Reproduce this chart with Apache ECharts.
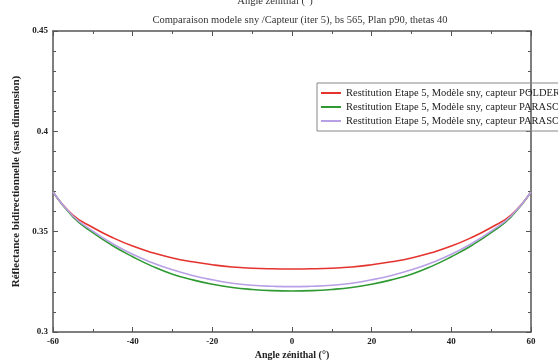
<!DOCTYPE html>
<html><head><meta charset="utf-8">
<script src="https://cdn.jsdelivr.net/npm/echarts@6/dist/echarts.min.js"></script>
<style>html,body{margin:0;padding:0;background:#fff}#c{width:558px;height:360px}</style>
</head><body><div id="c"></div>
<script>
const angles = [-60,-55,-50,-45,-40,-35,-30,-25,-20,-15,-10,-5,0,5,10,15,20,25,30,35,40,45,50,55,60];
const polder = [0.3698,0.3583,0.3521,0.3470,0.3428,0.3395,0.3369,0.3350,0.3335,0.3324,0.3318,0.3315,0.3314,0.3315,0.3318,0.3324,0.3335,0.3350,0.3369,0.3395,0.3428,0.3470,0.3521,0.3583,0.3698];
const parasolA = [0.3698,0.3573,0.3495,0.3430,0.3375,0.3327,0.3288,0.3260,0.3238,0.3222,0.3212,0.3206,0.3204,0.3206,0.3212,0.3222,0.3238,0.3260,0.3288,0.3327,0.3375,0.3430,0.3495,0.3573,0.3698];
const parasolB = [0.3698,0.3578,0.3503,0.3440,0.3387,0.3345,0.3310,0.3282,0.3260,0.3243,0.3233,0.3228,0.3226,0.3228,0.3233,0.3243,0.3260,0.3282,0.3310,0.3345,0.3387,0.3440,0.3503,0.3578,0.3698];
const seriesNames = ['Restitution Etape 5, Modèle sny, capteur POLDER','Restitution Etape 5, Modèle sny, capteur PARASOL','Restitution Etape 5, Modèle sny, capteur PARASOL '];
const titleTop = 'Angle zénithal (°)';
const titleMain = 'Comparaison modele sny /Capteur (iter 5), bs 565, Plan p90, thetas 40';
const xName = 'Angle zénithal (°)';
const yName = 'Réflectance bidirectionnelle (sans dimension)';

const font = 'Liberation Serif';
const axisCol = '#555';
const chart = echarts.init(document.getElementById('c'), null, {renderer:'canvas'});
const pair = arr => angles.map((a,i)=>[a,arr[i]]);
const colors = ['#e5332e','#2f9a33','#b8a0e6'];
const mk = (name, data, col) => ({name, type:'line', data:pair(data), smooth:0.5, symbol:'none', lineStyle:{color:col,width:1.6}, itemStyle:{color:col}, xAxisIndex:0, yAxisIndex:0});
const common = {
  min:-60,max:60,interval:20,
  axisLine:{onZero:false,lineStyle:{color:axisCol,width:1.5}},
  axisTick:{inside:true,length:5,lineStyle:{color:axisCol}},
  minorTick:{show:true,splitNumber:2,length:3,lineStyle:{color:axisCol}},
  splitLine:{show:false}
};
const ycommon = {
  min:0.3,max:0.45,interval:0.05,
  axisLine:{onZero:false,lineStyle:{color:axisCol,width:1.5}},
  axisTick:{inside:true,length:5,lineStyle:{color:axisCol}},
  minorTick:{show:true,splitNumber:5,length:3,lineStyle:{color:axisCol}},
  splitLine:{show:false}
};
chart.setOption({
  backgroundColor:'#fff',
  animation:false,
  title:[
    {text:titleTop,left:270,textAlign:'center',top:-9,textStyle:{fontFamily:font,fontSize:10.5,fontWeight:'normal',color:'#333'}},
    {text:titleMain,left:295,textAlign:'center',top:10,textStyle:{fontFamily:font,fontSize:10.5,fontWeight:'normal',color:'#333'}}
  ],
  grid:{left:53,right:27,top:31,bottom:28,containLabel:false,outerBoundsMode:'none'},
  legend:{
    orient:'vertical',left:317,top:83,
    data:seriesNames,
    borderColor:'#888',borderWidth:1,padding:[4,6,4,4],
    itemWidth:20,itemHeight:2,itemGap:2,icon:'rect',
    textStyle:{fontFamily:font,fontSize:10.5,lineHeight:12,color:'#222',padding:[0,0,0,0]}
  },
  xAxis:[
    Object.assign({type:'value',position:'bottom',name:xName,nameLocation:'middle',nameGap:16,
      nameTextStyle:{fontFamily:font,fontSize:10,fontWeight:'bold',color:'#222'},
      axisLabel:{fontFamily:font,fontSize:9,fontWeight:'bold',color:'#222',margin:5}},common),
    Object.assign({type:'value',position:'top',axisLabel:{show:false}},common)
  ],
  yAxis:[
    Object.assign({type:'value',position:'left',name:yName,nameLocation:'middle',nameGap:27,
      nameTextStyle:{fontFamily:font,fontSize:11,fontWeight:'bold',color:'#222'},
      axisLabel:{fontFamily:font,fontSize:9,fontWeight:'bold',color:'#222',margin:5,
        formatter:v=>String(+v.toFixed(2))}},ycommon),
    Object.assign({type:'value',position:'right',axisLabel:{show:false}},ycommon)
  ],
  series:[
    mk(seriesNames[0],polder,colors[0]),
    mk(seriesNames[1],parasolA,colors[1]),
    mk(seriesNames[2],parasolB,colors[2])
  ]
});
</script></body></html>
